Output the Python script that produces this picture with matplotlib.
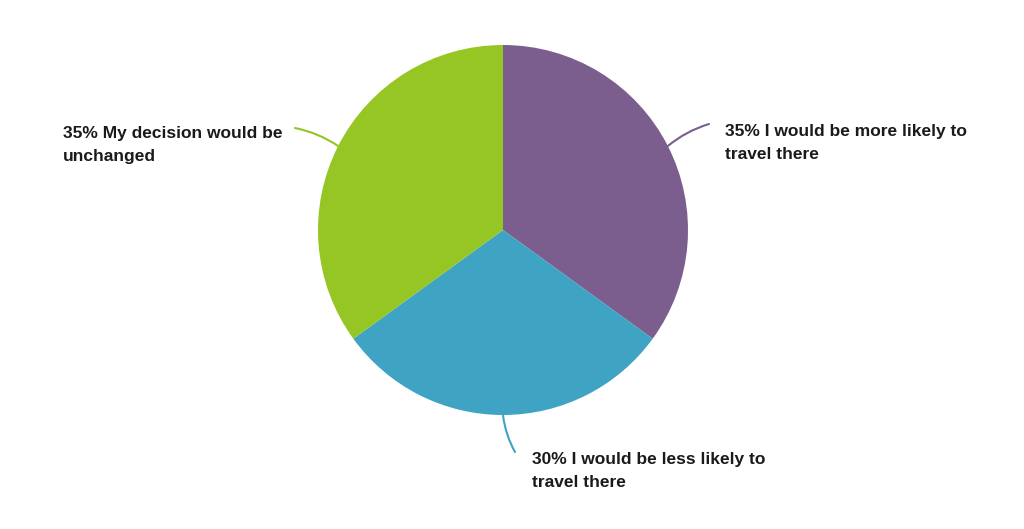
import numpy as np
import matplotlib.pyplot as plt

labels = ['35% I would be more likely to\ntravel there',
          '30% I would be less likely to\ntravel there',
          '35% My decision would be\nunchanged']
values = [35, 30, 35]
colors = ['#7b5e8e', '#3fa3c3', '#95c623']

plt.rcParams['font.family'] = ['Liberation Sans', 'DejaVu Sans']

fig = plt.figure(figsize=(10.24, 5.29), dpi=100)
ax = fig.add_axes([0, 0, 1, 1])

cx, cy, r = 503, 299, 185
wedges, _ = ax.pie(values, colors=colors, startangle=90, counterclock=False,
                   center=(cx, cy), radius=r, frame=True,
                   wedgeprops=dict(linewidth=0))
ax.set_xlim(0, 1024)
ax.set_ylim(0, 529)
ax.set_aspect('equal')
ax.axis('off')

# leader line end and text position for each slice
line_ends = [(709, 405), (515, 77), (295, 401)]
text_pos = [(725, 386), (532, 58), (63, 384)]
rads = [0.1, -0.1, -0.1]

for w, lab, col, le, tp, rad in zip(wedges, labels, colors, line_ends, text_pos, rads):
    ang = np.deg2rad((w.theta1 + w.theta2) / 2)
    x0, y0 = cx + r * np.cos(ang), cy + r * np.sin(ang)
    ax.annotate('', xy=(x0, y0), xytext=le,
                arrowprops=dict(arrowstyle='-', color=col, lw=1.5,
                                connectionstyle=f'arc3,rad={rad}',
                                shrinkA=0, shrinkB=0))
    ax.text(tp[0], tp[1], lab, ha='left', va='center', fontsize=12.5,
            fontweight='bold', color='#1a1a1a', linespacing=1.6)

fig.savefig('out.png', dpi=100)
